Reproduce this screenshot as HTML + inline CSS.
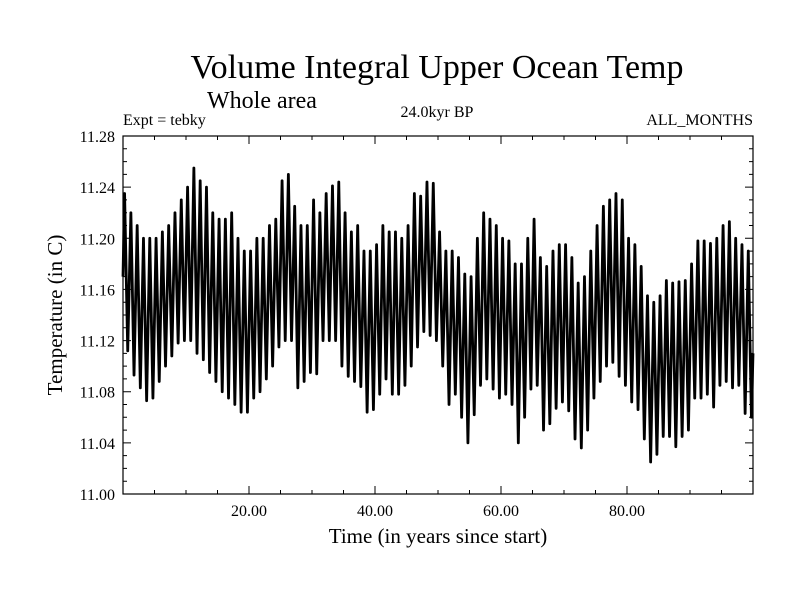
<!DOCTYPE html>
<html><head><meta charset="utf-8">
<style>
body{margin:0;background:#fff;}
svg{display:block;font-family:"Liberation Serif",serif;}
</style></head>
<body>
<svg id="chart" width="800" height="600" viewBox="0 0 800 600">
<text x="437" y="78" font-size="34" text-anchor="middle">Volume Integral Upper Ocean Temp</text>
<text x="207" y="108" font-size="24">Whole area</text>
<text x="123" y="125" font-size="16">Expt = tebky</text>
<text x="437" y="117" font-size="16" text-anchor="middle">24.0kyr BP</text>
<text x="753" y="125" font-size="16" text-anchor="end">ALL_MONTHS</text>
<text transform="translate(62,315) rotate(-90)" font-size="21" text-anchor="middle">Temperature (in C)</text>
<text x="438" y="543" font-size="21" text-anchor="middle">Time (in years since start)</text>
<g id="axes"></g>
<g id="plot"></g>
</svg>
<script>
const peaks=[11.235,11.22,11.21,11.20,11.20,11.20,11.205,11.21,11.22,11.23,11.24,11.255,11.245,11.24,11.22,11.215,11.215,11.22,11.20,11.19,11.19,11.20,11.20,11.21,11.215,11.245,11.25,11.225,11.21,11.21,11.23,11.22,11.235,11.241,11.244,11.22,11.205,11.21,11.19,11.19,11.195,11.21,11.205,11.205,11.20,11.21,11.235,11.233,11.244,11.243,11.205,11.19,11.19,11.185,11.172,11.17,11.20,11.22,11.215,11.21,11.20,11.198,11.18,11.18,11.20,11.215,11.185,11.178,11.19,11.195,11.195,11.185,11.165,11.17,11.19,11.21,11.225,11.23,11.235,11.23,11.20,11.195,11.178,11.155,11.15,11.155,11.167,11.165,11.166,11.167,11.18,11.198,11.198,11.196,11.20,11.21,11.213,11.20,11.195,11.19];
const troughs=[11.112,11.093,11.083,11.073,11.075,11.088,11.10,11.108,11.118,11.12,11.12,11.11,11.105,11.095,11.088,11.08,11.075,11.07,11.064,11.064,11.075,11.08,11.09,11.10,11.115,11.12,11.12,11.083,11.088,11.095,11.094,11.12,11.12,11.12,11.10,11.092,11.088,11.084,11.064,11.066,11.078,11.09,11.078,11.078,11.085,11.10,11.115,11.127,11.124,11.12,11.10,11.07,11.078,11.06,11.04,11.062,11.085,11.09,11.082,11.075,11.078,11.07,11.04,11.06,11.082,11.085,11.05,11.055,11.067,11.072,11.065,11.043,11.036,11.05,11.075,11.088,11.10,11.103,11.092,11.085,11.072,11.066,11.043,11.025,11.031,11.045,11.045,11.037,11.045,11.05,11.075,11.075,11.078,11.068,11.085,11.088,11.083,11.085,11.063,11.06];
const xTicks=[20,40,60,80];
const yTicks=[11.00,11.04,11.08,11.12,11.16,11.20,11.24,11.28];
const xMin=0,xMax=100,yMin=11.00,yMax=11.28;
const L=123,R=753,T=136,B=494;
const sx=v=>L+(v-xMin)/(xMax-xMin)*(R-L);
const sy=v=>B-(v-yMin)/(yMax-yMin)*(B-T);
const NS="http://www.w3.org/2000/svg";
const axes=document.getElementById('axes'),plot=document.getElementById('plot');
function mk(tag,attrs,parent){const e=document.createElementNS(NS,tag);for(const k in attrs)e.setAttribute(k,attrs[k]);parent.appendChild(e);return e;}
const frame=mk('rect',{x:L,y:T,width:R-L,height:B-T,fill:'none',stroke:'#000','stroke-width':1.2},axes);


let td='';
for(let v=0;v<=100;v+=5){const x=sx(v);const len=(v%20===0)?8:4;td+=`M${x} ${B}v${-len}M${x} ${T}v${len}`;}
for(let i=0;i<=28;i++){const v=11+i*0.01;const y=sy(v);const len=(i%4===0)?8:4;td+=`M${L} ${y}h${len}M${R} ${y}h${-len}`;}
const ticks=mk('path',{d:td,stroke:'#000','stroke-width':1,fill:'none'},axes);


xTicks.forEach(v=>{const t=mk('text',{x:sx(v),y:B+22,'font-size':16,'text-anchor':'middle'},axes);t.textContent=v.toFixed(2);

});
yTicks.forEach(v=>{const t=mk('text',{x:L-8,y:sy(v)+6,'font-size':16,'text-anchor':'end'},axes);t.textContent=v.toFixed(2);

});
let d=`M${sx(0)} ${sy(11.17)}`;
for(let i=0;i<peaks.length;i++){d+=`L${sx(i+0.25)} ${sy(peaks[i])}L${sx(i+0.75)} ${sy(troughs[i])}`;}
d+=`L${sx(100)} ${sy(11.11)}`;
const line=mk('path',{d:d,stroke:'#000','stroke-width':2.8,fill:'none','stroke-linejoin':'round'},plot);


</script>
</body></html>
